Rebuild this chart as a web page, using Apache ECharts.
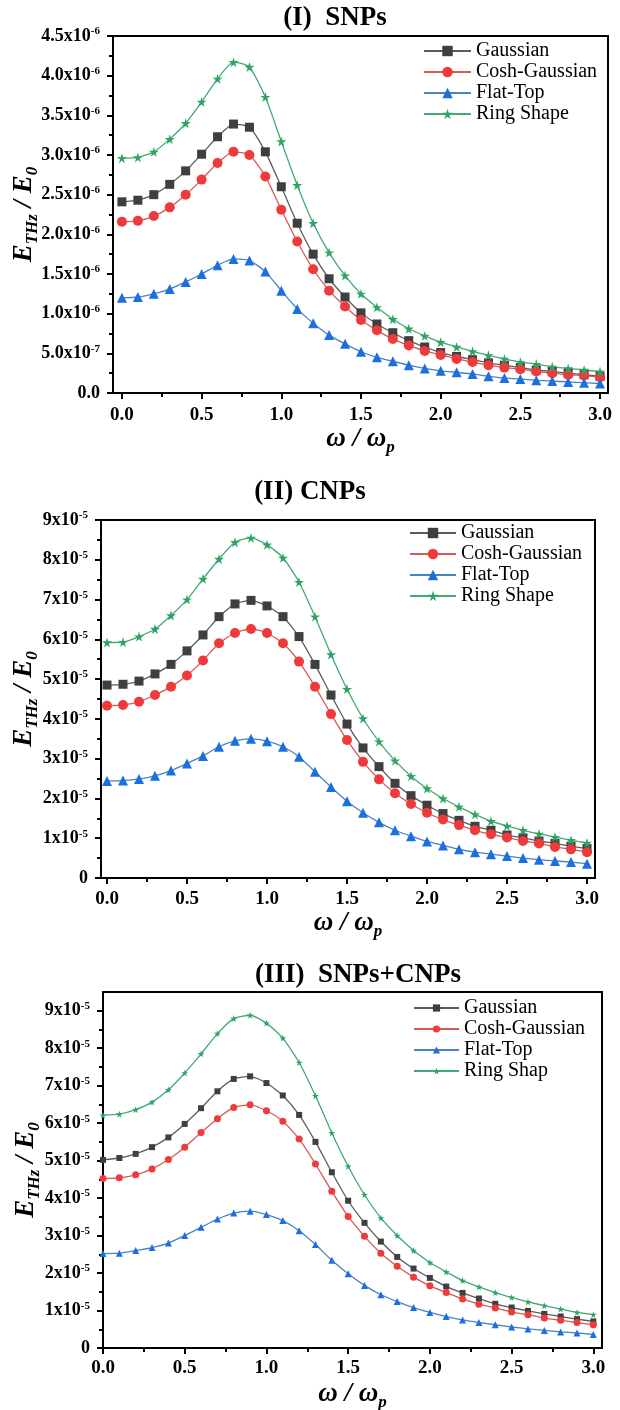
<!DOCTYPE html>
<html>
<head>
<meta charset="utf-8">
<script src="https://cdn.jsdelivr.net/npm/echarts@6/dist/echarts.min.js"></script>
<style>
  html, body { margin: 0; padding: 0; background: #fff; }
  #chart { width: 620px; height: 1410px; }
</style>
</head>
<body>
<div id="chart"></div>
<script>
// omega / omega_p
const omega = [0.0, 0.1, 0.2, 0.3, 0.4, 0.5, 0.6, 0.7, 0.8, 0.9, 1.0, 1.1, 1.2, 1.3, 1.4, 1.5,
  1.6, 1.7, 1.8, 1.9, 2.0, 2.1, 2.2, 2.3, 2.4, 2.5, 2.6, 2.7, 2.8, 2.9, 3.0];

// (I) SNPs, values in units of 1e-6
const gaussI = [2.41, 2.43, 2.50, 2.63, 2.80, 3.01, 3.23, 3.39, 3.35, 3.04, 2.60, 2.14, 1.75, 1.44, 1.21, 1.01,
  0.87, 0.76, 0.66, 0.58, 0.51, 0.46, 0.42, 0.38, 0.35, 0.32, 0.29, 0.27, 0.25, 0.23, 0.21];
const coshI = [2.16, 2.17, 2.23, 2.34, 2.50, 2.69, 2.90, 3.04, 3.00, 2.73, 2.31, 1.91, 1.56, 1.29, 1.09, 0.92,
  0.79, 0.68, 0.60, 0.53, 0.48, 0.43, 0.39, 0.35, 0.32, 0.30, 0.27, 0.25, 0.23, 0.22, 0.20];
const flatI = [1.20, 1.21, 1.25, 1.31, 1.40, 1.50, 1.61, 1.69, 1.67, 1.53, 1.29, 1.06, 0.88, 0.73, 0.62, 0.52,
  0.45, 0.40, 0.35, 0.31, 0.28, 0.26, 0.24, 0.21, 0.19, 0.175, 0.16, 0.15, 0.14, 0.13, 0.12];
const ringI = [2.96, 2.97, 3.04, 3.20, 3.40, 3.67, 3.96, 4.17, 4.11, 3.73, 3.17, 2.62, 2.14, 1.77, 1.48, 1.25,
  1.08, 0.93, 0.81, 0.72, 0.64, 0.58, 0.525, 0.475, 0.43, 0.39, 0.365, 0.33, 0.31, 0.29, 0.27];

// (II) CNPs, units of 1e-5
const gaussII = [4.85, 4.87, 4.95, 5.13, 5.37, 5.71, 6.11, 6.57, 6.89, 6.98, 6.84, 6.57, 6.07, 5.37, 4.60, 3.87,
  3.27, 2.80, 2.38, 2.07, 1.83, 1.62, 1.45, 1.30, 1.20, 1.08, 1.01, 0.93, 0.87, 0.80, 0.74];
const coshII = [4.33, 4.35, 4.43, 4.60, 4.81, 5.09, 5.47, 5.90, 6.16, 6.26, 6.16, 5.90, 5.44, 4.81, 4.12, 3.47,
  2.92, 2.48, 2.13, 1.86, 1.64, 1.47, 1.33, 1.20, 1.10, 1.02, 0.93, 0.87, 0.78, 0.72, 0.65];
const flatII = [2.44, 2.45, 2.49, 2.57, 2.70, 2.88, 3.07, 3.30, 3.45, 3.50, 3.44, 3.30, 3.05, 2.67, 2.29, 1.93,
  1.64, 1.40, 1.20, 1.05, 0.92, 0.82, 0.72, 0.65, 0.60, 0.55, 0.50, 0.46, 0.43, 0.40, 0.36];
const ringII = [5.92, 5.93, 6.07, 6.26, 6.60, 7.00, 7.52, 8.02, 8.44, 8.55, 8.38, 8.05, 7.44, 6.57, 5.62, 4.75,
  4.01, 3.43, 2.95, 2.56, 2.25, 2.00, 1.79, 1.60, 1.43, 1.31, 1.20, 1.11, 1.03, 0.95, 0.88];

// (III) SNPs+CNPs, units of 1e-5
const gaussIII = [5.02, 5.07, 5.18, 5.36, 5.62, 5.98, 6.40, 6.85, 7.18, 7.25, 7.07, 6.74, 6.22, 5.50, 4.69, 3.93,
  3.34, 2.84, 2.43, 2.12, 1.87, 1.64, 1.47, 1.32, 1.18, 1.08, 0.99, 0.91, 0.84, 0.77, 0.71];
const coshIII = [4.52, 4.54, 4.62, 4.78, 5.03, 5.36, 5.75, 6.12, 6.42, 6.49, 6.33, 6.05, 5.58, 4.91, 4.18, 3.51,
  2.98, 2.53, 2.18, 1.89, 1.66, 1.48, 1.31, 1.17, 1.07, 0.96, 0.89, 0.80, 0.74, 0.68, 0.62];
const flatIII = [2.52, 2.53, 2.60, 2.68, 2.80, 3.00, 3.22, 3.44, 3.60, 3.65, 3.56, 3.40, 3.13, 2.76, 2.34, 1.98,
  1.67, 1.42, 1.24, 1.08, 0.95, 0.84, 0.75, 0.68, 0.62, 0.56, 0.51, 0.47, 0.43, 0.40, 0.36];
const ringIII = [6.21, 6.24, 6.36, 6.56, 6.89, 7.34, 7.85, 8.39, 8.79, 8.88, 8.67, 8.27, 7.62, 6.73, 5.74, 4.85,
  4.09, 3.47, 3.00, 2.60, 2.28, 2.03, 1.80, 1.63, 1.48, 1.35, 1.23, 1.13, 1.04, 0.95, 0.89];

const namesI = ['Gaussian', 'Cosh-Gaussian', 'Flat-Top', 'Ring Shape'];
const namesIII = ['Gaussian', 'Cosh-Gaussian', 'Flat-Top', 'Ring Shap'];

// ticks and tick labels ('^' marks the exponent)
const xTicks = [0, 0.5, 1.0, 1.5, 2.0, 2.5, 3.0];
const xMinor = [0.25, 0.75, 1.25, 1.75, 2.25, 2.75];
const xLabels = ['0.0', '0.5', '1.0', '1.5', '2.0', '2.5', '3.0'];
const yTicksI = [0, 0.5, 1.0, 1.5, 2.0, 2.5, 3.0, 3.5, 4.0, 4.5];
const yMinorI = [0.25, 0.75, 1.25, 1.75, 2.25, 2.75, 3.25, 3.75, 4.25];
const yLabelsI = ['0.0', '5.0x10^-7', '1.0x10^-6', '1.5x10^-6', '2.0x10^-6', '2.5x10^-6',
  '3.0x10^-6', '3.5x10^-6', '4.0x10^-6', '4.5x10^-6'];
const yTicksII = [0, 1, 2, 3, 4, 5, 6, 7, 8, 9];
const yMinorII = [0.5, 1.5, 2.5, 3.5, 4.5, 5.5, 6.5, 7.5, 8.5];
const yLabelsII = ['0', '1x10^-5', '2x10^-5', '3x10^-5', '4x10^-5', '5x10^-5',
  '6x10^-5', '7x10^-5', '8x10^-5', '9x10^-5'];

const markerColors = ['#3f3f3f', '#ee3a3a', '#1c6fdc', '#2fa463'];
const lineColors = ['#5c5c5c', '#d65a55', '#4a82c4', '#45a878'];
const symbols = ['rect', 'circle', 'triangle',
  'path://M50,0 L61,35 L98,35 L68,57 L79,91 L50,70 L21,91 L32,57 L2,35 L39,35 Z'];

const SERIF = '"Liberation Serif", "Times New Roman", serif';

const panels = [
  {
    title: '(I)  SNPs', tx: 335, ty: 18,
    grid: { left: 113, top: 36, width: 495, height: 357 },
    xMin: -0.056, xMax: 3.05, yMax: 4.5,
    yTicks: yTicksI, yMinor: yMinorI, yLabels: yLabelsI,
    names: namesI, data: [gaussI, coshI, flatI, ringI],
    symbolSize: 10, legend: { left: 423, top: 41, itemWidth: 47, itemHeight: 13 },
    yGap: 72, xGap: 28, xMargin: 13
  },
  {
    title: '(II) CNPs', tx: 310, ty: 492,
    grid: { left: 101, top: 520, width: 494, height: 358 },
    xMin: -0.0375, xMax: 3.05, yMax: 9,
    yTicks: yTicksII, yMinor: yMinorII, yLabels: yLabelsII,
    names: namesI, data: [gaussII, coshII, flatII, ringII],
    symbolSize: 10, legend: { left: 409, top: 523, itemWidth: 46, itemHeight: 13 },
    yGap: 60, xGap: 26, xMargin: 12
  },
  {
    title: '(III)  SNPs+CNPs', tx: 358, ty: 975,
    grid: { left: 103, top: 992, width: 499, height: 356 },
    xMin: 0, xMax: 3.053, yMax: 9.5,
    yTicks: yTicksII, yMinor: yMinorII, yLabels: yLabelsII,
    names: namesIII, data: [gaussIII, coshIII, flatIII, ringIII],
    symbolSize: 7, legend: { left: 413, top: 998, itemWidth: 45, itemHeight: 9 },
    yGap: 60, xGap: 30, xMargin: 11
  }
];

const tickStyle = { color: '#000', width: 2 };

function supLabel(s) {
  const parts = s.split('^');
  return parts.length > 1 ? '{b|' + parts[0] + '}{s|' + parts[1] + '}' : '{b|' + s + '}';
}

const nameRich = {
  e: { fontFamily: SERIF, fontStyle: 'italic', fontWeight: 'bold', fontSize: 27, lineHeight: 33, color: '#000' },
  sub: { fontFamily: SERIF, fontStyle: 'italic', fontWeight: 'bold', fontSize: 17, lineHeight: 17, verticalAlign: 'bottom', color: '#000' }
};

const grids = [], xAxes = [], yAxes = [], legends = [], series = [], graphics = [];

panels.forEach((p, k) => {
  grids.push(Object.assign({ show: true, borderColor: '#000', borderWidth: 2, outerBoundsMode: 'none' }, p.grid));

  graphics.push({
    type: 'text', x: p.tx, y: p.ty,
    style: { text: p.title, fontFamily: SERIF, fontWeight: 'bold', fontSize: 27, fill: '#000', align: 'center', verticalAlign: 'middle' }
  });

  // main x axis and a bare one carrying only the minor ticks
  xAxes.push({
    type: 'value', gridIndex: k, position: 'bottom', min: p.xMin, max: p.xMax,
    axisLine: { show: true, onZero: false, lineStyle: tickStyle },
    axisTick: { show: true, customValues: xTicks, length: 6, lineStyle: tickStyle },
    axisLabel: {
      customValues: xTicks, margin: p.xMargin, color: '#000',
      fontFamily: SERIF, fontWeight: 'bold', fontSize: 19,
      formatter: v => xLabels[Math.round(v / 0.5)]
    },
    splitLine: { show: false },
    name: '{e|ω / ω}{sub|p}', nameLocation: 'middle', nameGap: p.xGap,
    nameTextStyle: { rich: nameRich }
  });
  xAxes.push({
    type: 'value', gridIndex: k, position: 'bottom', min: p.xMin, max: p.xMax,
    axisLine: { show: false, onZero: false },
    axisTick: { show: true, customValues: xMinor, length: 4, lineStyle: tickStyle },
    axisLabel: { show: false }, splitLine: { show: false }
  });

  yAxes.push({
    type: 'value', gridIndex: k, position: 'left', min: 0, max: p.yMax,
    axisLine: { show: true, onZero: false, lineStyle: tickStyle },
    axisTick: { show: true, customValues: p.yTicks, length: 6, lineStyle: tickStyle },
    axisLabel: {
      customValues: p.yTicks, margin: 13, color: '#000',
      formatter: v => supLabel(p.yLabels[p.yTicks.indexOf(v)] || ''),
      rich: {
        b: { fontFamily: SERIF, fontWeight: 'bold', fontSize: 18, lineHeight: 20, color: '#000' },
        s: { fontFamily: SERIF, fontWeight: 'bold', fontSize: 11, lineHeight: 11, verticalAlign: 'top', color: '#000' }
      }
    },
    splitLine: { show: false },
    name: '{e|E}{sub|THz}{e| / E}{sub|0}', nameLocation: 'middle', nameRotate: 90, nameGap: p.yGap,
    nameMoveOverlap: false,
    nameTextStyle: { rich: nameRich }
  });
  yAxes.push({
    type: 'value', gridIndex: k, position: 'left', min: 0, max: p.yMax,
    axisLine: { show: false, onZero: false },
    axisTick: { show: true, customValues: p.yMinor, length: 4, lineStyle: tickStyle },
    axisLabel: { show: false }, splitLine: { show: false }
  });

  legends.push(Object.assign({
    orient: 'vertical', selectedMode: false, itemGap: 1, padding: 0, data: p.names,
    textStyle: { fontFamily: SERIF, fontSize: 20, lineHeight: 20, color: '#000' }
  }, p.legend));

  p.data.forEach((vals, i) => {
    series.push({
      name: p.names[i], type: 'line', xAxisIndex: 2 * k, yAxisIndex: 2 * k,
      data: omega.map((w, j) => [w, vals[j]]),
      symbol: symbols[i], symbolSize: i === 0 ? p.symbolSize - 1 : p.symbolSize,
      smooth: 0.2,
      itemStyle: { color: markerColors[i] },
      lineStyle: { color: lineColors[i], width: 1.3 },
      emphasis: { disabled: true }
    });
  });
});

const chart = echarts.init(document.getElementById('chart'));
chart.setOption({
  animation: false,
  backgroundColor: '#fff',
  graphic: graphics,
  grid: grids,
  xAxis: xAxes,
  yAxis: yAxes,
  legend: legends,
  series: series
});
</script>
</body>
</html>
